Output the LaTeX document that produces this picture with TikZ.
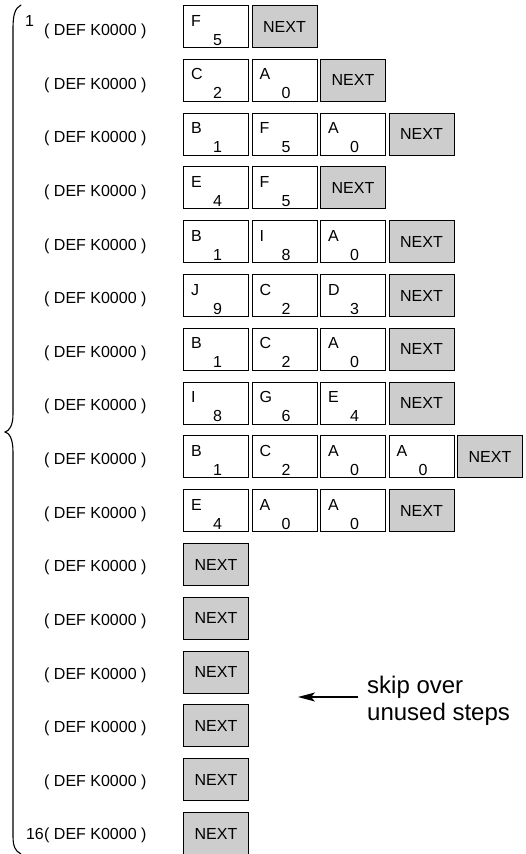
\documentclass[tikz,border=0pt]{standalone}
\usepackage{fontspec}
\setmainfont{Liberation Sans}
\usetikzlibrary{arrows.meta}
\definecolor{nextgray}{RGB}{205,205,205}
\newcommand\cellbox[4]{%
  \pgfmathsetmacro\cbx{183+(#2-1)*68.5}%
  \pgfmathsetmacro\cby{5+(#1-1)*53.8}%
  \node[cell] (c#1-#2) at (\cbx,\cby) {};%
  \node[celltext,anchor=base west] (l#1-#2) at ([shift={(8,21)}]c#1-#2.north west) {#3};%
  \node[celltext,anchor=base] (d#1-#2) at ([shift={(1.5,-3)}]c#1-#2.south) {#4};%
}
\newcommand\nextcell[2]{%
  \pgfmathsetmacro\cbx{183+(#2-1)*68.5}%
  \pgfmathsetmacro\cby{5+(#1-1)*53.8}%
  \node[nextbox] (c#1-#2) at (\cbx,\cby) {NEXT};%
}
\newcommand\defrow[1]{%
  \pgfmathsetmacro\cby{35.5+(#1-1)*53.63}%
  \node[deftext,anchor=base west] (def#1) at (44,\cby) {( DEF K0000 )};%
}
\begin{document}
\begin{tikzpicture}[x=1pt,y=-1pt,
  cell/.style={draw=black, line width=1pt, minimum width=65pt, minimum height=42pt,
    inner sep=0pt, anchor=north west, fill=white},
  nextbox/.style={cell, fill=nextgray, font=\fontsize{16}{19}\selectfont},
  celltext/.style={inner sep=0pt, font=\fontsize{16}{19}\selectfont},
  deftext/.style={inner sep=0pt, font=\fontsize{16}{19}\selectfont},
  bigtext/.style={inner sep=0pt, font=\fontsize{24}{28}\selectfont},
  bracestyle/.style={line width=1.1pt, line cap=round},
  arrowstyle/.style={line width=1.3pt, -{Stealth[length=17pt,width=9pt,inset=4pt]}}]
\useasboundingbox (0,0) rectangle (526,854);

% row labels
\foreach \r in {1,...,16}{\defrow{\r}}
\node[deftext,anchor=base west] (n1) at (25,26) {1};
\node[deftext,anchor=base east] (n16) at (def16.base west) {16};

% row 1
\cellbox{1}{1}{F}{5} \nextcell{1}{2}
% row 2
\cellbox{2}{1}{C}{2} \cellbox{2}{2}{A}{0} \nextcell{2}{3}
% row 3
\cellbox{3}{1}{B}{1} \cellbox{3}{2}{F}{5} \cellbox{3}{3}{A}{0} \nextcell{3}{4}
% row 4
\cellbox{4}{1}{E}{4} \cellbox{4}{2}{F}{5} \nextcell{4}{3}
% row 5
\cellbox{5}{1}{B}{1} \cellbox{5}{2}{I}{8} \cellbox{5}{3}{A}{0} \nextcell{5}{4}
% row 6
\cellbox{6}{1}{J}{9} \cellbox{6}{2}{C}{2} \cellbox{6}{3}{D}{3} \nextcell{6}{4}
% row 7
\cellbox{7}{1}{B}{1} \cellbox{7}{2}{C}{2} \cellbox{7}{3}{A}{0} \nextcell{7}{4}
% row 8
\cellbox{8}{1}{I}{8} \cellbox{8}{2}{G}{6} \cellbox{8}{3}{E}{4} \nextcell{8}{4}
% row 9
\cellbox{9}{1}{B}{1} \cellbox{9}{2}{C}{2} \cellbox{9}{3}{A}{0} \cellbox{9}{4}{A}{0} \nextcell{9}{5}
% row 10
\cellbox{10}{1}{E}{4} \cellbox{10}{2}{A}{0} \cellbox{10}{3}{A}{0} \nextcell{10}{4}
% rows 11-16
\foreach \r in {11,...,16}{\nextcell{\r}{1}}

% brace
\draw[bracestyle] (21,5) .. controls (15,8) and (13,15) .. (13,28)
  -- (13,414) .. controls (13,426) and (9,431) .. (5,432)
  .. controls (9,433) and (13,438) .. (13,452)
  -- (13,836) .. controls (13,846) and (15,851) .. (21,854);

% skip note
\node[bigtext,anchor=base west] (skip1) at (367,693) {skip over};
\node[bigtext,anchor=base west] (skip2) at (367,720) {unused steps};
\coordinate (arrowtail) at (358,697);
\coordinate (arrowtip) at (298,697);
\draw[arrowstyle] (arrowtail) -- (arrowtip);
\end{tikzpicture}
\end{document}
